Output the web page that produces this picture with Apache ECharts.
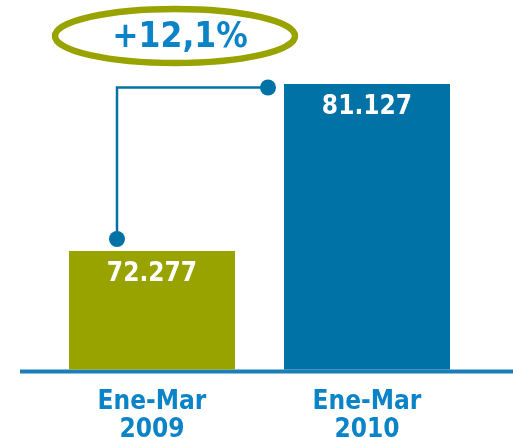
<!DOCTYPE html>
<html>
<head>
<meta charset="utf-8">
<script src="https://cdn.jsdelivr.net/npm/echarts@6/dist/echarts.min.js"></script>
<style>
  html, body { margin: 0; padding: 0; background: #fff; }
  #main { width: 513px; height: 438px; }
</style>
</head>
<body>
<div id="main"></div>
<script>
var categories = ['Ene-Mar\n2009', 'Ene-Mar\n2010'];
var values = [72277, 81127];
var barColors = ['#98a300', '#0072a5'];
var growthLabel = '+12,1%';

var FONT = '"DejaVu Sans Condensed", "DejaVu Sans", Verdana, sans-serif';
var chartDom = document.getElementById('main');
var myChart = echarts.init(chartDom);
var option;

function fmt(v) {
    return String(v).replace(/\B(?=(\d{3})+(?!\d))/g, '.');
}

option = {
    animation: false,
    grid: {
        left: 44.5,
        right: 38.5,
        top: 67.5,
        bottom: 68.5,
        outerBoundsMode: 'none'
    },
    xAxis: {
        type: 'category',
        data: categories,
        axisLine: { show: false },
        axisTick: { show: false },
        axisLabel: {
            margin: 19,
            color: '#0a84c6',
            fontFamily: FONT,
            fontWeight: 'bold',
            fontSize: 26,
            lineHeight: 28
        }
    },
    yAxis: {
        type: 'value',
        min: 66000,
        max: 82000,
        show: false,
        splitLine: { show: false }
    },
    series: [
        {
            type: 'bar',
            barWidth: 166,
            data: values.map(function (v, i) {
                return { value: v, itemStyle: { color: barColors[i] } };
            }),
            label: {
                show: true,
                position: 'insideTop',
                distance: 10,
                color: '#fff',
                fontFamily: FONT,
                fontWeight: 'bold',
                fontSize: 26,
                formatter: function (p) { return fmt(p.value); }
            }
        }
    ]
};

option && myChart.setOption(option);

// decorations placed from the axis scales
var base = myChart.convertToPixel({ yAxisIndex: 0 }, 66000);
var p1 = myChart.convertToPixel({ seriesIndex: 0 }, [0, values[0]]);
var p2 = myChart.convertToPixel({ seriesIndex: 0 }, [1, values[1]]);
var lineColor = '#0072a5';
var x1 = p1[0] - 35, y1 = p1[1] - 12;
var x2 = p2[0] - 99, yTop = p2[1] + 3.5;

myChart.setOption({
    graphic: [
        {
            type: 'line',
            shape: { x1: 20, y1: base + 2, x2: 513, y2: base + 2 },
            style: { stroke: '#1a7fb9', lineWidth: 4 }
        },
        {
            type: 'polyline',
            shape: { points: [[x1, y1], [x1, yTop], [x2, yTop]] },
            style: { stroke: lineColor, lineWidth: 2.5, fill: null }
        },
        {
            type: 'circle',
            shape: { cx: x1, cy: y1, r: 8 },
            style: { fill: lineColor }
        },
        {
            type: 'circle',
            shape: { cx: x2, cy: yTop, r: 8 },
            style: { fill: lineColor }
        },
        {
            type: 'ellipse',
            shape: { cx: 175, cy: 36, rx: 120, ry: 27 },
            style: { stroke: '#98a300', lineWidth: 6.5, fill: null }
        },
        {
            type: 'text',
            x: 180,
            y: 38,
            style: {
                text: growthLabel,
                fill: '#0a84c6',
                font: 'bold 35px ' + FONT,
                align: 'center',
                verticalAlign: 'middle'
            }
        }
    ]
});
</script>
</body>
</html>
